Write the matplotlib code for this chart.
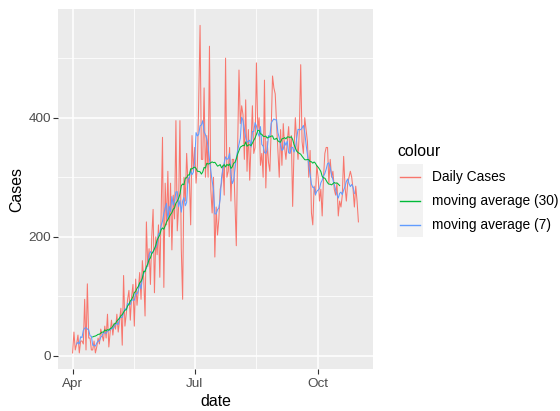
import pandas as pd
import matplotlib.pyplot as plt
from matplotlib.lines import Line2D
from matplotlib.patches import Rectangle

plt.rcParams['font.family'] = ['Liberation Sans', 'DejaVu Sans']

# === dados ===
start_date = "2020-04-01"
daily_cases = [
    5, 40, 10, 20, 35, 5, 25, 25, 20, 95,
    10, 121, 30, 30, 10, 10, 25, 5, 15, 30,
    20, 45, 35, 25, 50, 30, 70, 15, 40, 60,
    35, 55, 45, 70, 40, 60, 80, 18, 135, 50,
    70, 95, 110, 60, 100, 120, 50, 129, 85, 110,
    140, 95, 160, 130, 67, 225, 150, 180, 120, 200,
    246, 106, 200, 170, 220, 132, 240, 367, 115, 290,
    220, 310, 200, 290, 178, 270, 230, 395, 210, 250,
    395, 180, 95, 300, 260, 340, 290, 300, 220, 370,
    310, 350, 290, 320, 430, 555, 330, 330, 450, 300,
    370, 300, 520, 280, 240, 300, 166, 250, 203, 230,
    280, 290, 320, 270, 500, 300, 310, 350, 260, 330,
    330, 260, 185, 350, 480, 390, 420, 405, 330, 430,
    310, 380, 295, 360, 420, 340, 350, 492, 380, 400,
    320, 340, 300, 463, 282, 360, 325, 310, 380, 470,
    450, 440, 390, 345, 300, 380, 320, 390, 350, 330,
    360, 385, 340, 370, 251, 345, 400, 360, 330, 380,
    489, 360, 340, 400, 380, 360, 300, 345, 240, 220,
    285, 270, 320, 300, 260, 280, 235, 300, 340, 350,
    350, 290, 330, 300, 310, 280, 270, 290, 235, 260,
    250, 270, 335, 285, 260, 290, 300, 310, 300, 280,
    250, 285, 260, 225,
]
tick_dates = ["2020-04-01", "2020-07-01", "2020-10-01"]
tick_labels = ["Apr", "Jul", "Oct"]
y_ticks = [0, 200, 400]
y_minor = [100, 300, 500]

series_labels = ["Daily Cases", "moving average (30)", "moving average (7)"]
series_colors = ["#F8766D", "#00BA38", "#619CFF"]

# === medias moveis ===
dates = pd.date_range(start_date, periods=len(daily_cases), freq="D")
cases = pd.Series(daily_cases, index=dates, dtype=float)
ma7 = cases.rolling(7, center=True).mean()
ma30 = cases.rolling(30, center=True).mean()
x = dates.to_pydatetime()

# === figura ===
W, H = 560, 411
fig = plt.figure(figsize=(W / 100, H / 100), dpi=100)
ax = fig.add_axes([58.3 / W, 1 - 369.3 / H, (372.7 - 58.3) / W, (369.3 - 9) / H])
ax.set_facecolor("#EBEBEB")
for s in ax.spines.values():
    s.set_visible(False)

ax.plot(x, cases.values, color=series_colors[0], lw=0.75)
ax.plot(x, ma7.values, color=series_colors[2], lw=0.75)
ax.plot(x, ma30.values, color=series_colors[1], lw=0.75)

# limites com expansao de 5% (estilo ggplot)
span = dates[-1] - dates[0]
ax.set_xlim(dates[0] - 0.05 * span, dates[-1] + 0.05 * span)
lo, hi = cases.min(), cases.max()
ax.set_ylim(lo - 0.05 * (hi - lo), hi + 0.05 * (hi - lo))

tk = pd.to_datetime(tick_dates)
mid = [tk[i] + (tk[i + 1] - tk[i]) / 2 for i in range(len(tk) - 1)]
ax.set_xticks(tk.to_pydatetime())
ax.set_xticklabels(tick_labels)
ax.set_xticks([m.to_pydatetime() for m in mid], minor=True)
ax.set_yticks(y_ticks)
ax.set_yticks(y_minor, minor=True)

ax.grid(which="major", color="white", lw=1.1)
ax.grid(which="minor", color="white", lw=0.55)
ax.set_axisbelow(True)
ax.tick_params(which="major", length=3.3, width=0.8, color="#333333",
               labelcolor="#4D4D4D", labelsize=9.7, pad=1.7)
ax.tick_params(axis="x", which="major", pad=3.0)
ax.tick_params(which="minor", length=0)

ax.set_xlabel("date", fontsize=11.4, labelpad=2.5)
ax.set_ylabel("Cases", fontsize=11.4, labelpad=3)

# === legenda (estilo ggplot) ===
fig.text(397.3 / W, 1 - 151.7 / H, "colour", fontsize=11.4, va="center", ha="left")
key_top, key_h = 164.5, 24.3
fig.add_artist(Rectangle((397.3 / W, 1 - (key_top + 3 * key_h) / H), 26 / W,
                         3 * key_h / H, transform=fig.transFigure,
                         facecolor="#F2F2F2", edgecolor="none", zorder=1))
for i, (lab, col) in enumerate(zip(series_labels, series_colors)):
    yc = 1 - (key_top + key_h * (i + 0.5)) / H
    fig.add_artist(Line2D([400 / W, 420 / W], [yc, yc], transform=fig.transFigure,
                          color=col, lw=1.0, zorder=3))
    fig.text(431.7 / W, yc, lab, fontsize=9.9, va="center", ha="left")

fig.savefig("out.png", dpi=100)
